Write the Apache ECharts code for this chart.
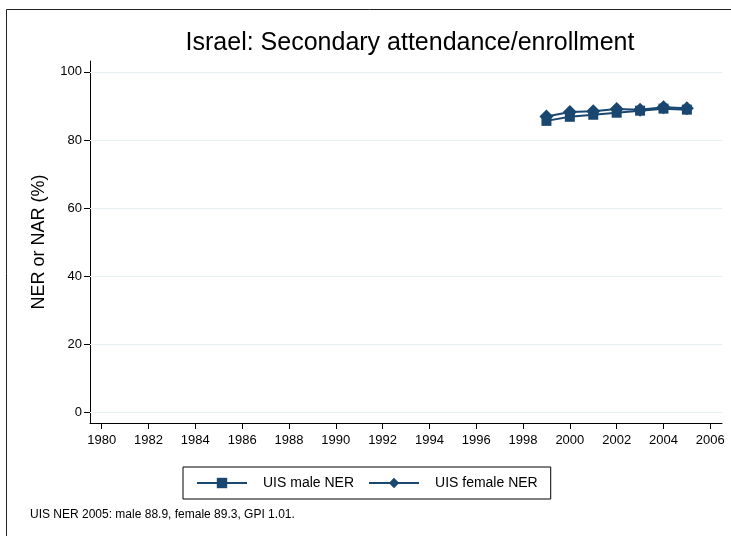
<!DOCTYPE html>
<html>
<head>
<meta charset="utf-8">
<script src="https://cdn.jsdelivr.net/npm/echarts@6/dist/echarts.min.js"></script>
<style>html,body{margin:0;padding:0;background:#fff}#c{width:731px;height:536px}</style>
</head>
<body>
<div id="c"></div>
<script>
var years = [1999, 2000, 2001, 2002, 2003, 2004, 2005];
var maleNER = [85.6, 86.8, 87.4, 88.0, 88.6, 89.2, 88.9];
var femaleNER = [86.9, 88.2, 88.4, 89.1, 88.9, 89.6, 89.3];
var xTicks = [1980, 1982, 1984, 1986, 1988, 1990, 1992, 1994, 1996, 1998, 2000, 2002, 2004, 2006];
var yTicks = [0, 20, 40, 60, 80, 100];
var titleText = 'Israel: Secondary attendance/enrollment';
var noteText = 'UIS NER 2005: male 88.9, female 89.3, GPI 1.01.';
var navy = '#1a476f';
var font = 'Liberation Sans';

function pairs(xs, ys) { return xs.map(function (x, i) { return [x, ys[i]]; }); }

var chart = echarts.init(document.getElementById('c'), null, { renderer: 'canvas' });
chart.setOption({
  backgroundColor: '#fff',
  animation: false,
  textStyle: { fontFamily: font },
  title: {
    text: titleText, left: 405, top: 26, textAlign: 'center',
    textStyle: { fontFamily: font, fontSize: 25, fontWeight: 'normal', color: '#000' }
  },
  grid: { left: 90, right: 9, top: 61, bottom: 113, containLabel: false },
  xAxis: {
    type: 'value', min: 1979.5, max: 2006.5,
    axisLine: { show: true, onZero: false, lineStyle: { color: '#000', width: 1 } },
    axisTick: { show: true, length: 6, lineStyle: { color: '#000' }, customValues: xTicks },
    axisLabel: { show: true, fontSize: 13, color: '#000', fontFamily: font, margin: 11, customValues: xTicks,
      formatter: function (v) { return String(v); } },
    splitLine: { show: false }
  },
  yAxis: {
    type: 'value', min: -3.2, max: 103.2,
    name: 'NER or NAR (%)', nameLocation: 'middle', nameGap: 42,
    nameTextStyle: { fontSize: 18, color: '#000', fontFamily: font },
    axisLine: { show: true, onZero: false, lineStyle: { color: '#000', width: 1 } },
    axisTick: { show: true, length: 6, lineStyle: { color: '#000' }, customValues: yTicks },
    axisLabel: { show: true, fontSize: 13, color: '#000', fontFamily: font, margin: 8, customValues: yTicks },
    splitLine: { show: false }
  },
  legend: {
    data: ['UIS male NER', 'UIS female NER'],
    left: 183, top: 467,
    itemWidth: 50, itemHeight: 13, itemGap: 14,
    padding: [9, 13, 9, 13],
    borderColor: '#000', borderWidth: 1,
    textStyle: { fontSize: 14, color: '#000', fontFamily: font, padding: [0, 0, 0, 11] }
  },
  graphic: [
    { type: 'polyline', shape: { points: [[6.5, 540], [6.5, 9.5], [735, 9.5]] }, style: { fill: null, stroke: '#222', lineWidth: 1 }, silent: true },
    { type: 'text', left: 30, top: 509, style: { text: noteText, fontSize: 12, fill: '#000', fontFamily: font } }
  ],
  series: [
    {
      type: 'line', name: 'gridlines', data: [], silent: true,
      markLine: {
        silent: true, symbol: 'none', label: { show: false },
        lineStyle: { color: '#e8eff3', width: 1, type: 'solid' },
        data: yTicks.map(function (v) { return { yAxis: v }; })
      }
    },
    {
      type: 'line', name: 'UIS male NER', data: pairs(years, maleNER),
      symbol: 'rect', symbolSize: 10,
      lineStyle: { color: navy, width: 2 }, itemStyle: { color: navy }
    },
    {
      type: 'line', name: 'UIS female NER', data: pairs(years, femaleNER),
      symbol: 'diamond', symbolSize: 14,
      lineStyle: { color: navy, width: 2 }, itemStyle: { color: navy }
    }
  ]
});
</script>
</body>
</html>
